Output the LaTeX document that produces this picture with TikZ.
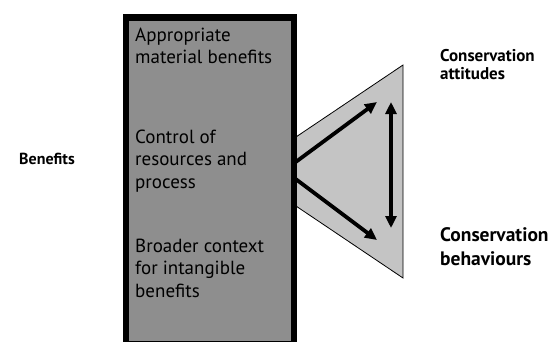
\documentclass[tikz,border=0pt]{standalone}
\usepackage{fontspec}
\setmainfont{PT Sans}
\usetikzlibrary{arrows.meta}
\definecolor{boxgray}{RGB}{142,142,142}
\definecolor{trigray}{RGB}{196,196,196}
\begin{document}
\begin{tikzpicture}[x=1pt,y=-1pt,
  boxtext/.style={anchor=base west,align=left,inner sep=0pt,font=\fontsize{19}{22.5}\selectfont},
  label/.style={anchor=base west,align=left,inner sep=0pt,font=\bfseries},
  bigarrow/.style={line width=3.8pt,-{Triangle[length=12pt,width=11pt]}},
  dblarrow/.style={line width=3.8pt,{Triangle[length=12pt,width=11pt]}-{Triangle[length=12pt,width=11pt]}}]
\useasboundingbox (0,0) rectangle (554,341);
% triangle / trapezoid
\draw[fill=trigray,line width=0.8pt] (290,141) -- (403,65) -- (403,278) -- (290,202) -- cycle;
% box
\node[draw=black,fill=boxgray,line width=6.5pt,minimum width=168pt,minimum height=326.5pt,inner sep=0pt,anchor=north west] (box) at (122.5,14) {};
% texts in the box (anchored at the baseline of the last line)
\node[boxtext] (t1) at (135,63.5) {Appropriate\\material benefits};
\node[boxtext] (t2) at (135,188) {Control of\\resources and\\process};
\node[boxtext] (t3) at (135,297) {Broader context\\for intangible\\benefits};
% labels
\node[label,font=\bfseries\fontsize{16}{18}\selectfont] (ben) at (19,164) {Benefits};
\node[label,font=\bfseries\fontsize{17}{18}\selectfont] (att) at (440,79) {Conservation\\attitudes};
\node[label,font=\bfseries\fontsize{19.5}{24}\selectfont] (beh) at (440,265) {Conservation\\behaviours};
% arrows
\coordinate (s1) at (293,164);
\coordinate (s2) at (293,177);
\coordinate (e1) at (377,102);
\coordinate (e2) at (377,240);
\coordinate (v1) at (391,102);
\coordinate (v2) at (391,228);
\draw[bigarrow] (s1) -- (e1);
\draw[bigarrow] (s2) -- (e2);
\draw[dblarrow] (v1) -- (v2);
\end{tikzpicture}
\end{document}
